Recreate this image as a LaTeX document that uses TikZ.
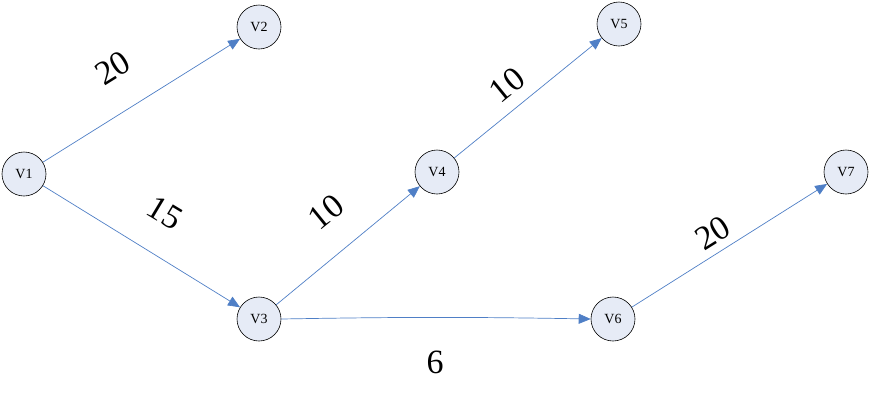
\documentclass[tikz,border=0pt]{standalone}
\usepackage{fontspec}
\setmainfont{Liberation Serif}
\usetikzlibrary{arrows.meta}
\definecolor{nodefill}{HTML}{E6EBF6}
\definecolor{edgecol}{HTML}{4F7FC6}
\begin{document}
\begin{tikzpicture}[x=1pt,y=-1pt,
  vert/.style={circle,draw=black,fill=nodefill,line width=0.6pt,minimum size=44pt,inner sep=0pt,font=\fontsize{14}{14}\selectfont},
  edge/.style={draw=edgecol,line width=0.7pt,-{Triangle[length=12pt,width=10pt]}},
  wlab/.style={font=\fontsize{34}{34}\selectfont,inner sep=0pt}]
\useasboundingbox (0,0) rectangle (874,400);
\node[vert] (v1) at (24,174) {V1};
\node[vert] (v2) at (259,27) {V2};
\node[vert] (v3) at (259,319) {V3};
\node[vert] (v4) at (437,172) {V4};
\node[vert] (v5) at (619,24) {V5};
\node[vert] (v6) at (613,319) {V6};
\node[vert] (v7) at (846,172) {V7};
\draw[edge] (v1) -- (v2);
\draw[edge] (v1) -- (v3);
\draw[edge] (v3) -- (v4);
\draw[edge] (v4) -- (v5);
\draw[edge] (v3.east) to[bend left=1] (v6.west);
\draw[edge] (v6) -- (v7);
\node[wlab,rotate=32] (w12) at (113,68) {20};
\node[wlab,rotate=-31] (w13) at (165,213) {15};
\node[wlab,rotate=39] (w34) at (326,212) {10};
\node[wlab,rotate=39] (w45) at (507,85) {10};
\node[wlab,rotate=32] (w67) at (713,233) {20};
\node[wlab] (w36) at (435,362) {6};
\end{tikzpicture}
\end{document}
